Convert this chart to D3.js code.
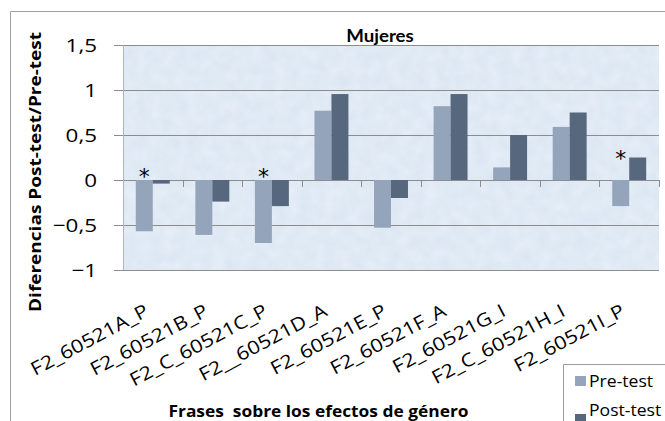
<!DOCTYPE html>
<html><head><meta charset="utf-8">
<script src="https://cdn.jsdelivr.net/npm/d3@7"></script>
<style>body{margin:0;background:#fff}svg{display:block}</style>
</head><body>
<script>
const categories = ["F2_60521A_P","F2_60521B_P","F2_C_60521C_P","F2__60521D_A","F2_60521E_P","F2_60521F_A","F2_60521G_I","F2_C_60521H_I","F2_60521I_P"];
const preTest  = [-0.57,-0.61,-0.70,0.77,-0.53,0.82,0.14,0.59,-0.29];
const postTest = [-0.04,-0.24,-0.29,0.955,-0.20,0.955,0.50,0.75,0.25];
const starLevel = [0.08,null,0.08,null,null,null,null,null,0.28];
const yTicks = [-1,-0.5,0,0.5,1,1.5];
const seriesNames = ["Pre-test","Post-test"];
const colors = ["#94a5bb","#56677e"];

const W=665,H=421;
const svg=d3.select("body").append("svg").attr("width",W).attr("height",H);
const ff="'Open Sans', 'Liberation Sans', sans-serif";
const SX=1.18;

// outer chart border
svg.append("path").attr("d","M10.5,421 L10.5,11.5 L665,11.5").attr("fill","none").attr("stroke","#a0a0a0").attr("stroke-width",1);

const L=123,R=659,T=45,B=270;
const x=d3.scaleBand().domain(categories).range([L,R]).paddingInner(0.43).paddingOuter(0.215);
const x0=d3.scaleBand().domain(categories).range([L,R]);
const xs=d3.scaleBand().domain([0,1]).range([0,x.bandwidth()]);
const y=d3.scaleLinear().domain([-1,1.5]).range([B,T]);

// textured background
const defs=svg.append("defs");
const pat=defs.append("filter").attr("id","tex");
pat.append("feTurbulence").attr("type","fractalNoise").attr("baseFrequency","0.08").attr("numOctaves",3).attr("seed",4).attr("result","n");
pat.append("feColorMatrix").attr("in","n").attr("type","matrix").attr("values","0 0 0 0 1  0 0 0 0 1  0 0 0 0 1  0 0 0 0.4 -0.05").attr("result","m");
pat.append("feComposite").attr("in","m").attr("in2","SourceGraphic").attr("operator","in").attr("result","c");
pat.append("feMerge").selectAll("feMergeNode").data(["SourceGraphic","c"]).join("feMergeNode").attr("in",d=>d);
svg.append("rect").attr("x",L).attr("y",T).attr("width",R-L).attr("height",B-T).attr("fill","#dae6f3").attr("filter","url(#tex)");

// gridlines
svg.append("g").selectAll("line").data(yTicks).join("line")
  .attr("x1",L-9).attr("x2",R).attr("y1",d=>Math.round(y(d))+0.5).attr("y2",d=>Math.round(y(d))+0.5)
  .attr("stroke","#8c8c8c").attr("stroke-width",1);
svg.append("line").attr("x1",L+0.5).attr("x2",L+0.5).attr("y1",T).attr("y2",B).attr("stroke","#b4b4b4");

// y labels
svg.append("g").selectAll("text").data(yTicks).join("text")
  .attr("transform",d=>`translate(97,${y(d)+7}) scale(${SX},1)`).attr("text-anchor","end")
  .attr("font-family",ff).attr("font-size",19).attr("fill","#000")
  .text(d=>d3.format(".1~f")(d).replace(".",","));

// category ticks on zero line
svg.append("g").selectAll("line").data(categories).join("line")
  .attr("x1",d=>Math.round(x0(d)+x0.step())+0.5).attr("x2",d=>Math.round(x0(d)+x0.step())+0.5)
  .attr("y1",y(0)).attr("y2",y(0)+7).attr("stroke","#8c8c8c");

// bars
const g=svg.append("g");
[preTest,postTest].forEach((arr,si)=>{
  g.selectAll(null).data(arr).join("rect")
    .attr("x",(d,i)=>x(categories[i])+xs(si))
    .attr("width",xs.bandwidth())
    .attr("y",d=>Math.min(y(d),y(0)))
    .attr("height",d=>Math.abs(y(d)-y(0)))
    .attr("fill",colors[si]);
});

// asterisks
svg.append("g").selectAll("text").data(categories.filter((c,i)=>starLevel[i]!=null)).join("text")
  .attr("x",d=>x(d)+xs(0)+xs.bandwidth()/2)
  .attr("y",d=>y(starLevel[categories.indexOf(d)])+11)
  .attr("text-anchor","middle").attr("font-family","'DejaVu Sans', sans-serif").attr("font-size",22)
  .text("*");

// x labels rotated
svg.append("g").selectAll("text").data(categories).join("text")
  .attr("transform",d=>`translate(${x0(d)+x0.bandwidth()/2-3},${B+45}) rotate(-28) scale(1.16,1)`)
  .attr("text-anchor","end").attr("font-family",ff).attr("font-size",18.5).attr("fill","#000")
  .text(d=>d);

// title
svg.append("text").attr("transform","translate(380,42) scale(1.1,1)").attr("text-anchor","middle")
  .attr("font-family","'URW Gothic', 'Century Gothic', 'Lato', 'DejaVu Sans', sans-serif").attr("font-weight","bold").attr("font-size",17)
  .text("Mujeres");

// y title
svg.append("text").attr("transform","translate(41,172) rotate(-90)").attr("text-anchor","middle")
  .attr("font-family",ff).attr("font-weight","bold").attr("font-size",16)
  .attr("textLength",280).attr("lengthAdjust","spacingAndGlyphs").text("Diferencias Post-test/Pre-test");

// x title
svg.append("text").attr("transform","translate(318.5,417) scale(1.12,1)").attr("text-anchor","middle")
  .attr("font-family",ff).attr("font-weight","bold").attr("font-size",15.5).attr("xml:space","preserve")
  .text("Frases  sobre los efectos de género");

// legend
svg.append("path").attr("d","M563.5,421 L563.5,364.5 L665,364.5").attr("fill","none").attr("stroke","#9a9a9a");
seriesNames.forEach((s,i)=>{
  svg.append("rect").attr("x",575).attr("y",376+i*38).attr("width",11).attr("height",10).attr("fill",colors[i]);
  svg.append("text").attr("transform",`translate(589,${387+i*29}) scale(1.1,1)`).attr("font-family",ff).attr("font-size",16)
    .text(s);
});
</script>
</body></html>
